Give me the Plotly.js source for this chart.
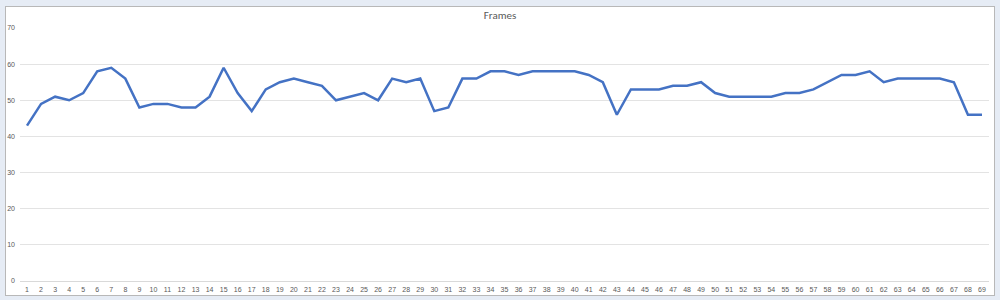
<!DOCTYPE html>
<html>
<head>
<meta charset="utf-8">
<script src="https://cdn.plot.ly/plotly-3.0.1.min.js"></script>
<style>
  html, body { margin: 0; padding: 0; width: 1000px; height: 300px; overflow: hidden; background: #e6ecf5; }
  #box { position: absolute; left: 5px; top: 6px; width: 988px; height: 288px; background: #ffffff; border: 1px solid #b8b8b8; }
  #chart { position: absolute; left: 0; top: 0; width: 1000px; height: 300px; }
</style>
</head>
<body>
<div id="box"></div>
<div id="chart"></div>
<script>
const categories = [];
for (let i = 1; i <= 69; i++) categories.push(i);
const tickLabels = categories.map(String);
const frames = [43,49,51,50,52,58,59,56,48,49,49,48,48,51,59,52,47,53,55,56,
                55,54,50,51,52,50,56,55,56,47,48,56,56,58,58,57,58,58,58,58,
                57,55,46,53,53,53,54,54,55,52,51,51,51,51,52,52,53,55,57,57,
                58,55,56,56,56,56,55,46,46];
const yTicks = [0,10,20,30,40,50,60,70];

const trace = {
  x: categories,
  y: frames,
  type: 'scatter',
  mode: 'lines',
  line: { color: '#4472C4', width: 2.5 },
  hoverinfo: 'x+y'
};

const layout = {
  width: 1000, height: 300,
  margin: { l: 20, r: 11, t: 28, b: 19, pad: 0 },
  paper_bgcolor: 'rgba(0,0,0,0)',
  plot_bgcolor: 'rgba(0,0,0,0)',
  showlegend: false,
  title: { text: 'Frames', x: 0.5, xanchor: 'center', y: 0.95, yanchor: 'middle',
           font: { family: 'Calibri, Carlito, "Liberation Sans", Arial, sans-serif', size: 11, color: '#595959' } },
  xaxis: {
    range: [0.5, 69.5],
    tickmode: 'array', tickvals: categories, ticktext: tickLabels,
    tickfont: { family: '"Liberation Sans", Arial, sans-serif', size: 7, color: '#595959' },
    showgrid: false, zeroline: false,
    showline: true, linecolor: '#d9d9d9', linewidth: 1,
    ticks: '', ticklabelstandoff: 2, fixedrange: true
  },
  yaxis: {
    range: [0, 70],
    tickmode: 'array', tickvals: yTicks, ticktext: yTicks.map(String),
    tickfont: { family: '"Liberation Sans", Arial, sans-serif', size: 7, color: '#595959' },
    showgrid: true, gridcolor: '#e3e3e3', gridwidth: 1,
    zeroline: false, showline: false, ticks: '', ticklabelstandoff: 4, fixedrange: true
  }
};

Plotly.newPlot('chart', [trace], layout, { displayModeBar: false, staticPlot: true });
</script>
</body>
</html>
